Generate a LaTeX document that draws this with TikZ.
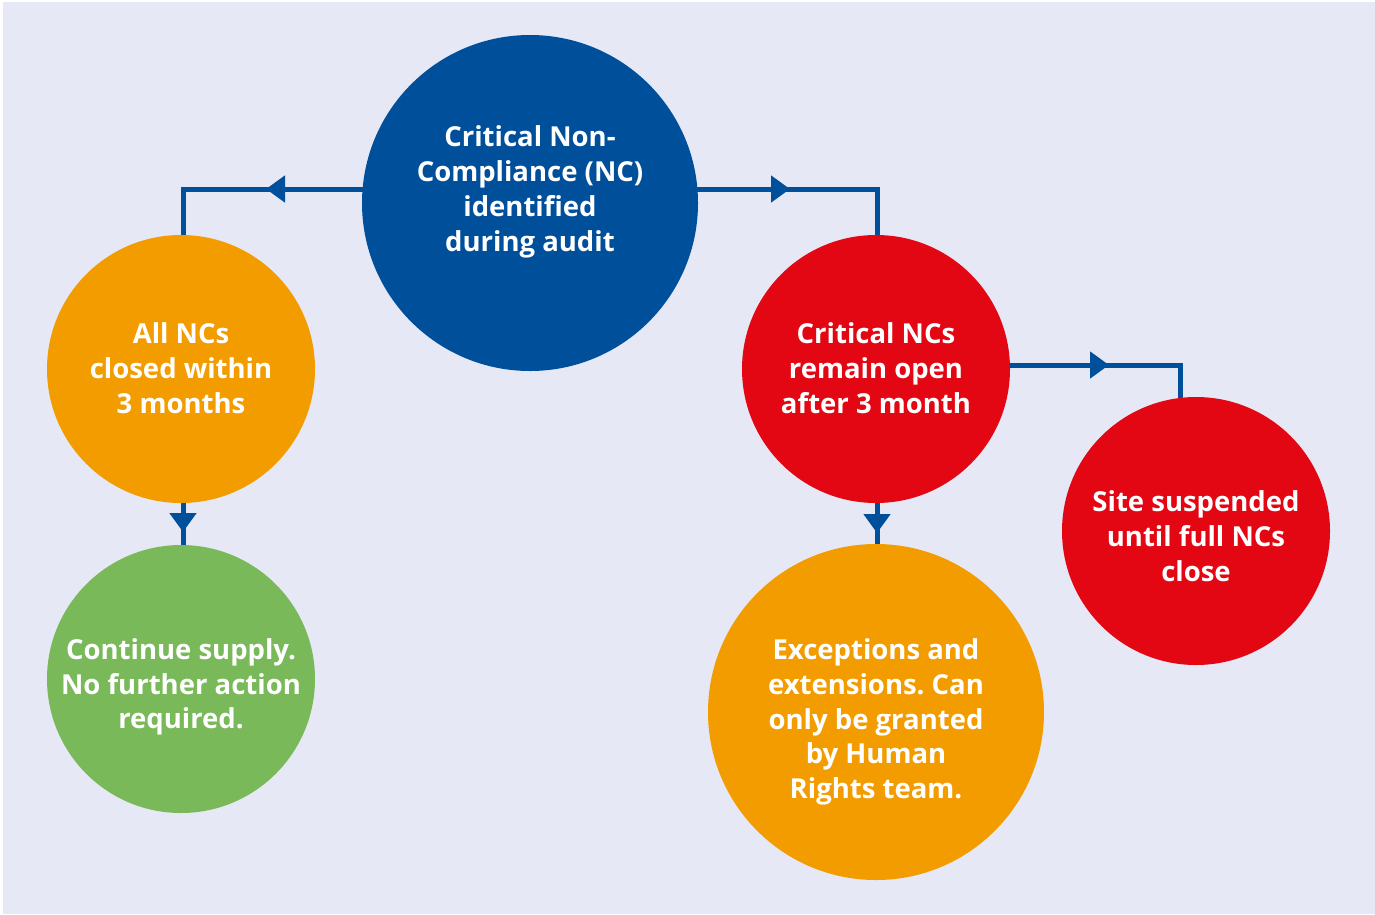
\documentclass[tikz,border=0pt]{standalone}
\usepackage{fontspec}
\setmainfont{Open Sans}
\usetikzlibrary{arrows.meta,decorations.markings,calc}
\definecolor{bgc}{RGB}{230,232,245}
\definecolor{nblue}{RGB}{0,79,155}
\definecolor{norange}{RGB}{243,156,0}
\definecolor{ngreen}{RGB}{122,185,90}
\definecolor{nred}{RGB}{227,6,19}
\pgfdeclarelayer{back}
\pgfdeclarelayer{bg}
\pgfsetlayers{back,bg,main}
\frenchspacing
\tikzset{
  bubble/.style={circle,inner sep=0pt,minimum size=#1},
  txt/.style={text=white,align=center,font=\fontsize{27.5}{34.8}\selectfont\bfseries},
  conn/.style={draw=nblue,line width=5pt},
  arrowat/.style={postaction={decorate},decoration={markings,
    mark=at position #1 with {\arrow[nblue]{Triangle[length=19pt,width=26pt]}}}}
}
\begin{document}
\begin{tikzpicture}[x=1pt,y=-1pt]
\useasboundingbox (0,0) rectangle (1375,914);
\begin{pgfonlayer}{back}
\fill[white] (0,0) rectangle (1375,914);
\fill[bgc] (3,2) rectangle (1375,914);
\end{pgfonlayer}
\node[bubble=336pt,fill=nblue] (top) at (530,203) {};
\node[bubble=268pt,fill=norange] (left) at (181,369) {};
\node[bubble=268pt,fill=ngreen] (green) at (181,679) {};
\node[bubble=268pt,fill=nred] (mid) at (876,369) {};
\node[bubble=336pt,fill=norange] (exc) at (876,712) {};
\node[bubble=268pt,fill=nred] (site) at (1196,531) {};
\node[txt] (ttop) at (530,192) {Critical Non-\\Compliance (NC)\\identified\\during audit};
\node[txt] (tleft) at (181,368) {All NCs\\closed within\\3 months};
\node[txt] (tgreen) at (181,687) {Continue supply.\\No further action\\required.};
\node[txt] (tmid) at (876,368) {Critical NCs\\remain open\\after 3 month};
\node[txt] (texc) at (876,722) {Exceptions and\\extensions. Can\\only be granted\\by Human\\Rights team.};
\node[txt] (tsite) at (1196,536) {Site suspended\\until full NCs\\close};
\begin{pgfonlayer}{bg}
\draw[conn,arrowat=264pt] ($(top.center)+(0,-14)$) -| ($(left.center)+(2,0)$);
\draw[conn,arrowat=260pt] ($(top.center)+(0,-14)$) -| ($(mid.center)+(1,0)$);
\draw[conn,arrowat=233pt] ($(mid.center)+(0,-4)$) -| ($(site.center)+(-16,0)$);
\draw[conn,arrowat=163pt] ($(left.center)+(2,0)$) -- ($(green.center)+(2,0)$);
\draw[conn,arrowat=164pt] ($(mid.center)+(1,0)$) -- ($(exc.center)+(1,0)$);
\end{pgfonlayer}
\end{tikzpicture}
\end{document}
